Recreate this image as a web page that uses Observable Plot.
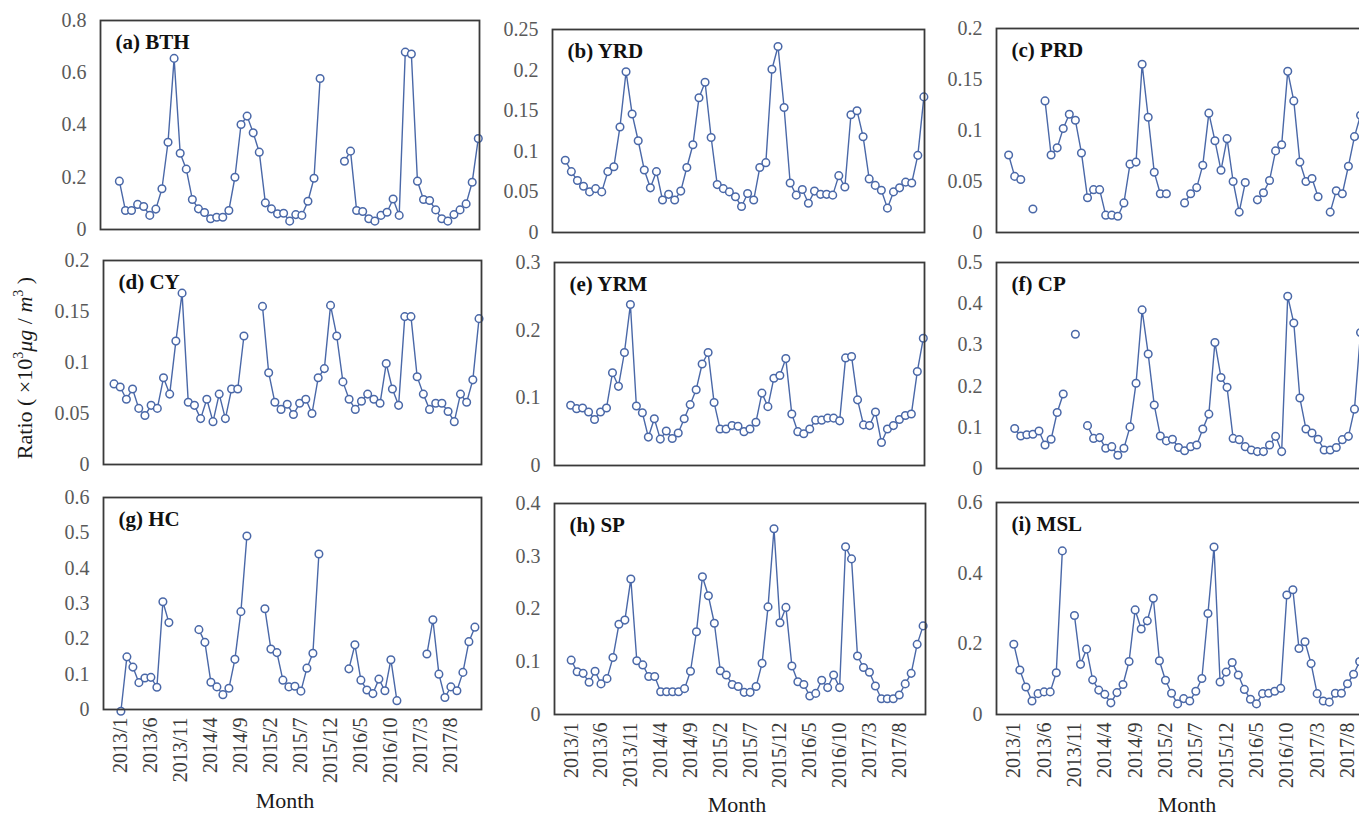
<!DOCTYPE html>
<html><head><meta charset="utf-8">
<script src="https://cdn.jsdelivr.net/npm/d3@7"></script>
<script src="https://cdn.jsdelivr.net/npm/@observablehq/plot@0.6"></script>
<style>
html,body{margin:0;padding:0;background:#fff;width:1359px;height:817px;overflow:hidden;}
#root{position:relative;width:1359px;height:817px;overflow:hidden;font-family:"Liberation Serif","Times New Roman",serif;}
.panel{position:absolute;}
.panel svg{max-width:none !important;}
.xtitle{position:absolute;font-size:22px;color:#1a1a1a;transform:translateX(-50%);white-space:nowrap;line-height:1;}
.ytitle{position:absolute;font-size:22px;color:#1a1a1a;white-space:nowrap;transform:translate(-50%,-50%) rotate(-90deg);line-height:1;}
</style></head><body><div id="root"></div><script>
const months = ["2013/1","2013/2","2013/3","2013/4","2013/5","2013/6","2013/7","2013/8","2013/9","2013/10","2013/11","2013/12",
"2014/1","2014/2","2014/3","2014/4","2014/5","2014/6","2014/7","2014/8","2014/9","2014/10","2014/11","2014/12",
"2015/1","2015/2","2015/3","2015/4","2015/5","2015/6","2015/7","2015/8","2015/9","2015/10","2015/11","2015/12",
"2016/1","2016/2","2016/3","2016/4","2016/5","2016/6","2016/7","2016/8","2016/9","2016/10","2016/11","2016/12",
"2017/1","2017/2","2017/3","2017/4","2017/5","2017/6","2017/7","2017/8","2017/9","2017/10","2017/11","2017/12"];
const tickMonths = ["2013/1","2013/6","2013/11","2014/4","2014/9","2015/2","2015/7","2015/12","2016/5","2016/10","2017/3","2017/8"];

const BTH = [0.185,0.073,0.073,0.096,0.088,0.054,0.078,0.156,0.334,0.655,0.292,0.231,0.115,0.079,0.065,0.041,0.047,0.047,0.073,0.200,0.402,0.434,0.370,0.296,0.102,0.079,0.060,0.062,0.032,0.057,0.054,0.108,0.196,0.578,null,null,null,0.261,0.300,0.073,0.069,0.041,0.032,0.054,0.066,0.117,0.054,0.679,0.672,0.185,0.115,0.111,0.075,0.041,0.032,0.057,0.075,0.098,0.181,0.348];
const YRD = [0.089,0.075,0.064,0.057,0.050,0.054,0.050,0.075,0.081,0.130,0.198,0.146,0.113,0.077,0.055,0.075,0.040,0.047,0.040,0.051,0.080,0.108,0.166,0.185,0.117,0.059,0.054,0.050,0.044,0.032,0.048,0.040,0.080,0.086,0.201,0.229,0.154,0.061,0.046,0.053,0.036,0.051,0.047,0.047,0.046,0.070,0.056,0.145,0.150,0.118,0.066,0.058,0.052,0.030,0.050,0.055,0.062,0.061,0.095,0.167];
const PRD = [0.076,0.055,0.052,null,0.023,null,0.129,0.076,0.083,0.102,0.116,0.110,0.078,0.034,0.042,0.042,0.017,0.017,0.016,0.029,0.067,0.069,0.165,0.113,0.059,0.038,0.038,null,null,0.029,0.038,0.044,0.066,0.117,0.090,0.061,0.092,0.050,0.020,0.049,null,0.032,0.039,0.051,0.080,0.086,0.158,0.129,0.069,0.050,0.053,0.035,null,0.020,0.041,0.038,0.065,0.094,0.115,null];
const CY = [0.079,0.076,0.064,0.074,0.055,0.048,0.058,0.055,0.085,0.069,0.121,0.168,0.061,0.058,0.045,0.064,0.042,0.069,0.045,0.074,0.074,0.126,null,null,0.155,0.090,0.061,0.054,0.059,0.049,0.060,0.064,0.050,0.085,0.094,0.156,0.126,0.081,0.064,0.054,0.062,0.069,0.064,0.060,0.099,0.074,0.058,0.145,0.145,0.086,0.069,0.054,0.060,0.060,0.052,0.042,0.069,0.061,0.083,0.143];
const YRM = [0.089,0.084,0.085,0.079,0.068,0.079,0.085,0.137,0.117,0.167,0.238,0.088,0.078,0.042,0.069,0.039,0.051,0.040,0.048,0.069,0.090,0.112,0.150,0.167,0.093,0.054,0.054,0.059,0.058,0.050,0.054,0.064,0.107,0.087,0.129,0.133,0.158,0.076,0.050,0.047,0.054,0.067,0.067,0.070,0.070,0.066,0.159,0.161,0.097,0.060,0.059,0.079,0.034,0.054,0.059,0.068,0.074,0.076,0.139,0.188];
const CP = [0.097,0.079,0.082,0.083,0.091,0.057,0.071,0.136,0.181,null,0.326,null,0.104,0.073,0.075,0.049,0.053,0.032,0.049,0.101,0.207,0.385,0.278,0.154,0.079,0.067,0.071,0.051,0.043,0.053,0.057,0.096,0.132,0.306,0.221,0.197,0.073,0.070,0.053,0.045,0.041,0.041,0.057,0.078,0.041,0.418,0.353,0.171,0.096,0.086,0.071,0.045,0.045,0.051,0.070,0.078,0.144,0.33,null,null];
const HC = [-0.005,0.149,0.120,0.076,0.089,0.091,0.063,0.305,0.246,null,null,null,null,0.226,0.190,0.077,0.064,0.042,0.060,0.142,0.277,0.491,null,null,0.285,0.171,0.161,0.083,0.064,0.066,0.052,0.117,0.159,0.440,null,null,null,null,0.115,0.183,0.083,0.055,0.045,0.086,0.053,0.141,0.025,null,null,null,null,0.157,0.254,0.100,0.034,0.064,0.053,0.105,0.192,0.233];
const SP = [0.103,0.081,0.078,0.061,0.082,0.058,0.068,0.108,0.171,0.179,0.257,0.102,0.094,0.072,0.072,0.043,0.043,0.043,0.043,0.049,0.082,0.157,0.261,0.225,0.173,0.083,0.075,0.057,0.053,0.042,0.042,0.053,0.097,0.204,0.352,0.174,0.203,0.092,0.062,0.057,0.035,0.040,0.065,0.051,0.075,0.051,0.318,0.295,0.111,0.089,0.080,0.054,0.030,0.030,0.030,0.037,0.058,0.078,0.133,0.168];
const MSL = [0.199,0.126,0.078,0.038,0.059,0.064,0.064,0.118,0.463,null,0.280,0.142,0.185,0.098,0.069,0.057,0.033,0.062,0.085,0.150,0.296,0.242,0.265,0.329,0.152,0.097,0.060,0.030,0.045,0.038,0.066,0.102,0.286,0.474,0.092,0.120,0.147,0.112,0.071,0.043,0.030,0.059,0.060,0.066,0.074,0.338,0.353,0.187,0.206,0.144,0.059,0.038,0.035,0.060,0.060,0.087,0.114,0.15,null,null];

const ticksA = [0,0.2,0.4,0.6,0.8];
const ticksB = [0,0.05,0.1,0.15,0.2,0.25];
const ticksC = [0,0.05,0.1,0.15,0.2];
const ticksD = [0,0.05,0.1,0.15,0.2];
const ticksE = [0,0.1,0.2,0.3];
const ticksF = [0,0.1,0.2,0.3,0.4,0.5];
const ticksG = [0,0.1,0.2,0.3,0.4,0.5,0.6];
const ticksH = [0,0.1,0.2,0.3,0.4];
const ticksI = [0,0.2,0.4,0.6];

const panels = [
  {title:"(a) BTH", values:BTH, yTicks:ticksA, L:100, T:20,  W:379, H:209, xd:[-3.1,59.2], axis:false},
  {title:"(b) YRD", values:YRD, yTicks:ticksB, L:552, T:29,  W:372, H:203, xd:[-2.1,59.1], axis:false},
  {title:"(c) PRD", values:PRD, yTicks:ticksC, L:996, T:28,  W:378, H:204, xd:[-2.0,60.3], axis:false},
  {title:"(d) CY",  values:CY,  yTicks:ticksD, L:103, T:260, W:378, H:204, xd:[-1.7,59.4], axis:false},
  {title:"(e) YRM", values:YRM, yTicks:ticksE, L:554, T:262, W:370, H:203, xd:[-2.7,59.2], axis:false},
  {title:"(f) CP",  values:CP,  yTicks:ticksF, L:996, T:262, W:378, H:206, xd:[-3.0,59.3], axis:false},
  {title:"(g) HC",  values:HC,  yTicks:ticksG, L:103, T:497, W:378, H:212, xd:[-2.9,60.1], axis:true},
  {title:"(h) SP",  values:SP,  yTicks:ticksH, L:554, T:503, W:371, H:211, xd:[-2.8,59.4], axis:true},
  {title:"(i) MSL", values:MSL, yTicks:ticksI, L:996, T:502, W:378, H:212, xd:[-2.85,59.45], axis:true}
];

const root = document.getElementById("root");
const blue = "#4a68a8";
const tickIdx = tickMonths.map(m => months.indexOf(m));

for (const p of panels) {
  const mL = 64, mR = 14, mT = 14, mB = p.axis ? 100 : 14;
  const w = mL + p.W + mR, h = mT + p.H + mB;
  const data = p.values.map((v, i) => ({i, month: months[i], v}));
  const chart = Plot.plot({
    width: w, height: h,
    marginLeft: mL, marginRight: mR, marginTop: mT, marginBottom: mB,
    style: {fontFamily: "'Liberation Serif','Times New Roman',serif", background: "transparent", overflow: "visible", color: "#555", maxWidth: "none"},
    x: {type: "linear", domain: p.xd, axis: null},
    y: {domain: [0, p.yTicks[p.yTicks.length - 1]], axis: null},
    marks: [
      Plot.axisY({ticks: p.yTicks, tickSize: 0, tickPadding: 14, tickFormat: d => String(d), fontSize: 20, fill: "#595959", label: null}),
      p.axis ? Plot.axisX({ticks: tickIdx, tickSize: 0, tickPadding: 8, tickRotate: -90, tickFormat: i => months[i], fontSize: 20, fill: "#3a3a3a", label: null}) : null,
      Plot.line(data, {x: "i", y: "v", stroke: blue, strokeWidth: 1.4}),
      Plot.dot(data.filter(d => d.v != null), {x: "i", y: "v", r: 3.8, stroke: blue, strokeWidth: 1.5, fill: "white"}),
      Plot.frame({stroke: "#3a3a3a", strokeWidth: 1.8}),
      Plot.text([p.title], {frameAnchor: "top-left", dx: 15, dy: 14, lineAnchor: "top", textAnchor: "start", fontWeight: "bold", fontSize: 21, fill: "#111", text: d => d})
    ]
  });
  chart.style.maxWidth = "none";
  chart.setAttribute("width", w);
  chart.setAttribute("height", h);
  const div = document.createElement("div");
  div.className = "panel";
  div.style.left = (p.L - mL) + "px";
  div.style.top = (p.T - mT) + "px";
  div.style.width = w + "px";
  div.style.height = h + "px";
  div.appendChild(chart);
  root.appendChild(div);
}

const xt = [{x: 285, y: 790}, {x: 737, y: 794}, {x: 1187, y: 794}];
for (const t of xt) {
  const d = document.createElement("div");
  d.className = "xtitle";
  d.style.left = t.x + "px";
  d.style.top = t.y + "px";
  d.textContent = "Month";
  root.appendChild(d);
}
const yt = document.createElement("div");
yt.className = "ytitle";
yt.style.left = "24px";
yt.style.top = "368px";
yt.innerHTML = "Ratio ( ×10<sup style='font-size:14px'>3</sup><i>μg</i> / <i>m</i><sup style='font-size:14px'>3</sup> )";
root.appendChild(yt);
</script></body></html>
